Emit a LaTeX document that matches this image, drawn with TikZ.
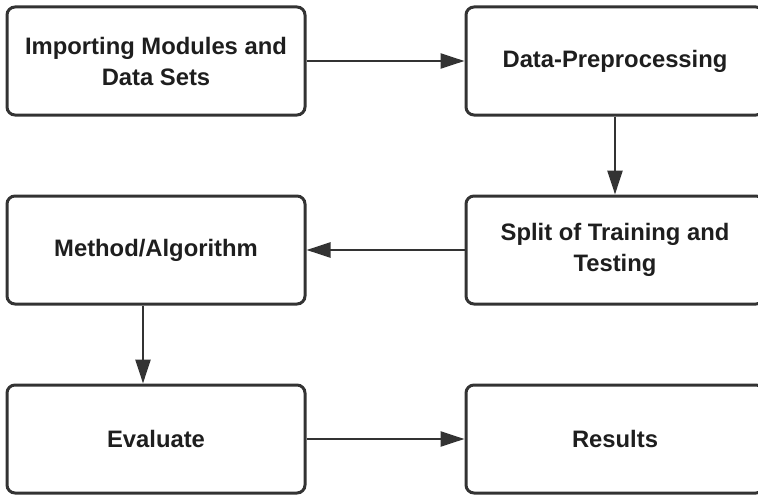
\documentclass[tikz,border=0pt]{standalone}
\usepackage{fontspec}
\setmainfont{Liberation Sans}
\usepackage{xcolor}
\usetikzlibrary{arrows.meta}

\definecolor{boxline}{HTML}{333333}
\definecolor{boxtext}{HTML}{1E1E1E}

\begin{document}
\begin{tikzpicture}[x=1pt,y=-1pt]
\tikzset{stage/.style={draw=boxline,line width=3pt,rounded corners=8pt,
  minimum width=298pt,minimum height=108pt,align=center,text=boxtext,
  font=\fontsize{23.8}{31}\selectfont\bfseries}}
\tikzset{flow/.style={draw=boxline,line width=2.4pt,
  -{Triangle[length=24pt,width=15pt]}}}

\useasboundingbox (0,0) rectangle (758,495);

\node[stage] (import) at (156,61) {Importing Modules and\\Data Sets};
\node[stage] (prep)   at (615,61) {Data-Preprocessing};
\node[stage] (split)  at (615,250) {Split of Training and\\Testing};
\node[stage] (method) at (156,250) {Method/Algorithm};
\node[stage] (eval)   at (156,439) {Evaluate};
\node[stage] (result) at (615,439) {Results};

\draw[flow] (import) -- (prep);
\draw[flow] (prep) -- (split);
\draw[flow] (split) -- (method);
\draw[flow] ([xshift=-13pt]method.south) -- ([xshift=-13pt]eval.north);
\draw[flow] (eval) -- (result);

\end{tikzpicture}
\end{document}
